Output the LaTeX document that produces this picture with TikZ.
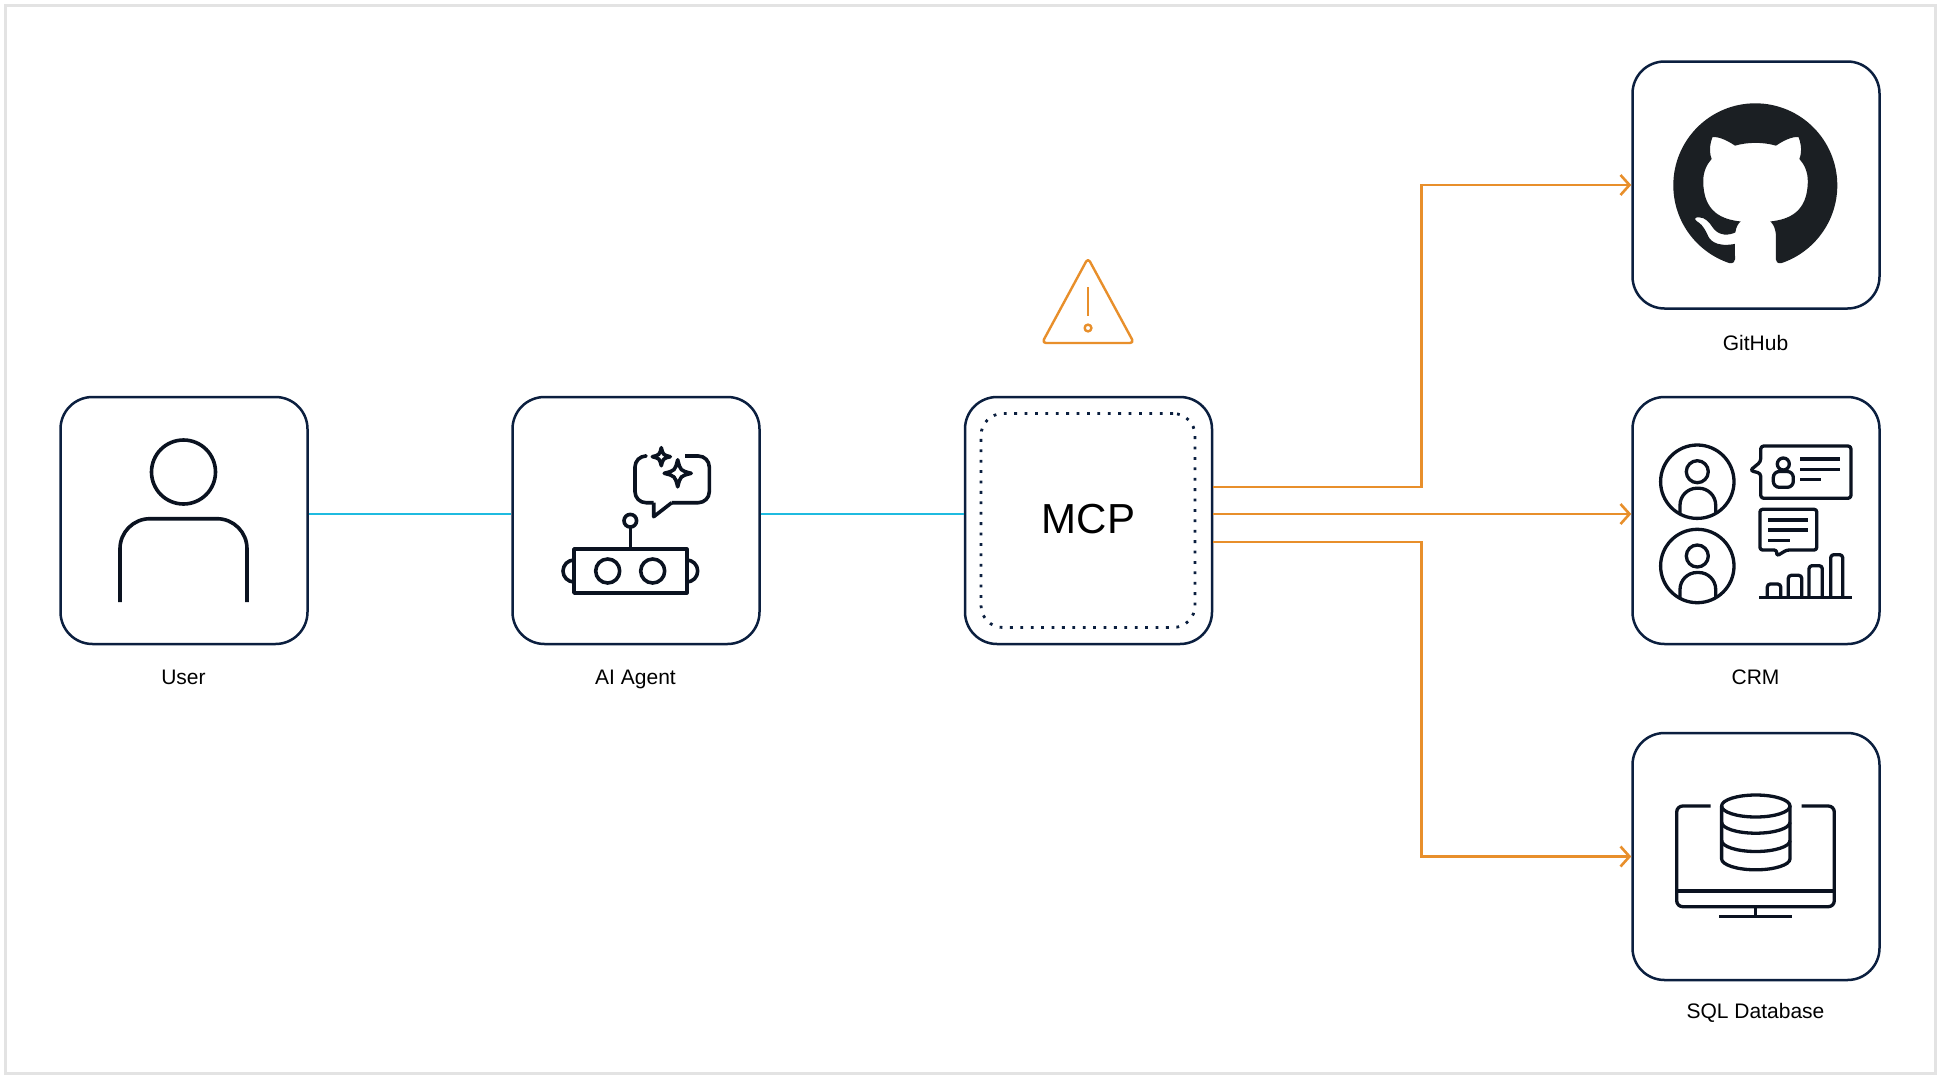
\documentclass[tikz,border=0pt]{standalone}
\usepackage{fontspec}
\setmainfont{Liberation Sans}
\usepackage{tikz}
\usetikzlibrary{arrows.meta,svg.path}
\definecolor{navy}{HTML}{0B1F3F}
\definecolor{inkblack}{HTML}{0A1220}
\definecolor{logoblack}{HTML}{1B1F23}
\definecolor{framegray}{HTML}{E3E3E3}
\definecolor{linkblue}{HTML}{1FBBE0}
\definecolor{linkorange}{HTML}{E88F2B}
\newcommand{\sparkle}[3]{%
  (#1,#2-#3) .. controls (#1+.2*#3,#2-.2*#3) .. (#1+#3,#2)
  .. controls (#1+.2*#3,#2+.2*#3) .. (#1,#2+#3)
  .. controls (#1-.2*#3,#2+.2*#3) .. (#1-#3,#2)
  .. controls (#1-.2*#3,#2-.2*#3) .. cycle}
\tikzset{
  tile/.style = {shape=rectangle, draw=navy, line width=2.5pt, fill=white, minimum size=247pt, inner sep=0pt, rounded corners=32pt},
  dotbox/.style = {shape=rectangle, draw=navy, line width=2.8pt, minimum size=214pt, inner sep=0pt, rounded corners=22pt, dash pattern=on 2.8pt off 7.6pt},
  caption/.style = {font=\fontsize{21}{24}\selectfont, text=black, inner sep=0pt, anchor=base},
  title/.style = {font=\fontsize{42}{48}\selectfont, text=black, inner sep=0pt, anchor=base},
  bluelink/.style = {draw=linkblue, line width=2.8pt},
  orangelink/.style = {draw=linkorange, line width=2.8pt, -{Straight Barb[length=9pt,width=20pt,line width=2.6pt]}},
  icon/.style = {draw=inkblack, line width=3.6pt, line join=round},
  thin icon/.style = {draw=inkblack, line width=3.3pt, line join=round, rounded corners=3pt},
  warning/.style = {draw=linkorange, line width=2.4pt, line join=round}
}
\begin{document}
\begin{tikzpicture}[x=1pt,y=-1pt]
    \useasboundingbox (0,0) rectangle (1941,1079);
    \fill[white] (0,0) rectangle (1941,1079);
    \draw[framegray, line width=3.4pt] (5.5,5.5) rectangle (1935.5,1073.5);

    \node[tile] (user) at (184,520.5) {};
    \node[tile] (agent) at (636,520.5) {};
    \node[tile] (mcp) at (1088.5,520.5) {};
    \node[tile] (github) at (1756,185) {};
    \node[tile] (crm) at (1756,520.5) {};
    \node[tile] (sql) at (1756,856.5) {};
    \node[dotbox] (mcpdots) at (1088,520.5) {};

    \node[title] (mcplabel) at (1088.5,533.8) {MCP};
    \node[caption] (userlabel) at (183.5,684) {User};
    \node[caption] (agentlabel) at (635.5,684) {AI Agent};
    \node[caption] (githublabel) at (1755.5,350) {GitHub};
    \node[caption] (crmlabel) at (1755.5,684) {CRM};
    \node[caption] (sqllabel) at (1755.5,1018) {SQL Database};

    \draw[bluelink] ([yshift=6.5pt]user.east) -- ([yshift=6.5pt]agent.west);
    \draw[bluelink] ([yshift=6.5pt]agent.east) -- ([yshift=6.5pt]mcp.west);
    \draw[orangelink] ([yshift=33.5pt]mcp.east) -- ++(208,0) |- (github.west);
    \draw[orangelink] ([yshift=6.5pt]mcp.east) -- ([yshift=6.5pt]crm.west);
    \draw[orangelink] ([yshift=-21.5pt]mcp.east) -- ++(208,0) |- (sql.west);

    % warning sign
    \draw[warning, rounded corners=4pt] (1088,258) -- (1134,343) -- (1042,343) -- cycle;
    \draw[warning] (1088,287) -- (1088,316);
    \draw[warning] (1088,328) circle (3.4);

    % user
    \draw[icon] (183.5,472) circle (32);
    \draw[icon, rounded corners=30pt] (120,602) -- (120,518.7) -- (247,518.7) -- (247,602);

    % robot
    \draw[icon] (574,549) rectangle (686.7,593);
    \draw[icon] (607.7,571) circle (12);
    \draw[icon] (652.7,571) circle (12);
    \draw[icon] (574,560) arc (270:90:11);
    \draw[icon] (686.7,560) arc (-90:90:11);
    \draw[icon] (630.3,549) -- (630.3,527);
    \draw[icon] (630.3,520.7) circle (6.3);
    \draw[icon, rounded corners=11pt] (645,456) -- (635,456) -- (635,502.7) -- (653.7,502.7);
    \draw[icon] (653.7,502.7) -- (653.7,516.7) -- (671.7,502.7);
    \draw[icon, rounded corners=11pt] (671.7,502.7) -- (709.3,502.7) -- (709.3,456) -- (685,456);
    \draw[icon] \sparkle{661.3}{456.7}{9};
    \draw[icon] \sparkle{677.7}{473.3}{13.5};

    % github mark
    \fill[logoblack, shift={(1673.3,103.3)}, yscale=-1, scale=10.25] svg {M 8 0 C 3.58 0 0 3.58 0 8 c 0 3.54 2.29 6.53 5.47 7.59 .4 .07 .55 -.17 .55 -.38 0 -.19 -.01 -.82 -.01 -1.49 -2.01 .37 -2.53 -.49 -2.69 -.94 -.09 -.23 -.48 -.94 -.82 -1.13 -.28 -.15 -.68 -.52 -.01 -.53 .63 -.01 1.08 .58 1.23 .82 .72 1.21 1.87 .87 2.33 .66 .07 -.52 .28 -.87 .51 -1.07 -1.78 -.2 -3.64 -.89 -3.64 -3.95 0 -.87 .31 -1.59 .82 -2.15 -.08 -.2 -.36 -1.02 .08 -2.12 0 0 .67 -.21 2.2 .82 .64 -.18 1.32 -.27 2 -.27 .68 0 1.36 .09 2 .27 1.53 -1.04 2.2 -.82 2.2 -.82 .44 1.1 .16 1.92 .08 2.12 .51 .56 .82 1.27 .82 2.15 0 3.07 -1.87 3.75 -3.65 3.95 .29 .25 .54 .73 .54 1.48 0 1.07 -.01 1.93 -.01 2.2 0 .21 .15 .46 .55 .38 C 13.71 14.53 16 11.53 16 8 c 0 -4.42 -3.58 -8 -8 -8 z};

    % crm
    \foreach \py in {481.7,566} {
      \draw[thin icon] (1697.3,\py) circle (36.7);
      \draw[thin icon] (1697.3,\py-10) circle (11);
      \draw[thin icon, rounded corners=17pt] (1680,\py+32) -- (1680,\py+6.5) -- (1715.7,\py+6.5) -- (1715.7,\py+32);
    }
    \draw[thin icon] (1760.7,461.7) -- (1760.7,446) -- (1851,446) -- (1851,498.3) -- (1760.7,498.3) -- (1760.7,473.3) -- (1750,470.5) -- cycle;
    \draw[thin icon] (1783.3,464) circle (6);
    \draw[thin icon, rounded corners=6pt] (1773.3,487.3) -- (1773.3,471.5) -- (1793.3,471.5) -- (1793.3,487.3) -- cycle;
    \foreach \ly/\lx in {459/1840,469.3/1840,479.3/1821}
      \draw[thin icon] (1800,\ly) -- (\lx,\ly);
    \draw[thin icon, rounded corners=2.5pt] (1776.7,556) -- (1776.7,550) -- (1760,550) -- (1760,509.3) -- (1816.7,509.3) -- (1816.7,550) -- (1786.7,550) -- cycle;
    \foreach \ly/\lx in {520/1808.3,530/1808.3,540.7/1790}
      \draw[thin icon] (1768.3,\ly) -- (\lx,\ly);
    \draw[thin icon] (1759.3,597.7) -- (1851.7,597.7);
    \foreach \bx/\bw/\by in {1767.3/13.4/584,1788.3/13.4/575.3,1809/13.3/565.7,1830.7/12/554.7}
      \draw[thin icon] (\bx,597.7) -- (\bx,\by) -- (\bx+\bw,\by) -- (\bx+\bw,597.7);

    % database monitor
    \draw[thin icon, rounded corners=6pt] (1710.7,806) -- (1676.7,806) -- (1676.7,906.7) -- (1834.3,906.7) -- (1834.3,806) -- (1801.7,806);
    \draw[thin icon, line width=4pt] (1676.7,891) -- (1834.3,891);
    \draw[thin icon] (1755.7,906.7) -- (1755.7,916.3);
    \draw[thin icon] (1719.3,916.3) -- (1792.3,916.3);
    \draw[thin icon] (1755.8,806) ellipse (34.2 and 11);
    \draw[thin icon, rounded corners=0pt] (1721.6,806) -- (1721.6,858.8) arc (180:0:34.2 and 11) -- (1790,806);
    \draw[thin icon, rounded corners=0pt] (1721.6,822.2) arc (180:0:34.2 and 11);
    \draw[thin icon, rounded corners=0pt] (1721.6,840.5) arc (180:0:34.2 and 11);
\end{tikzpicture}
\end{document}
